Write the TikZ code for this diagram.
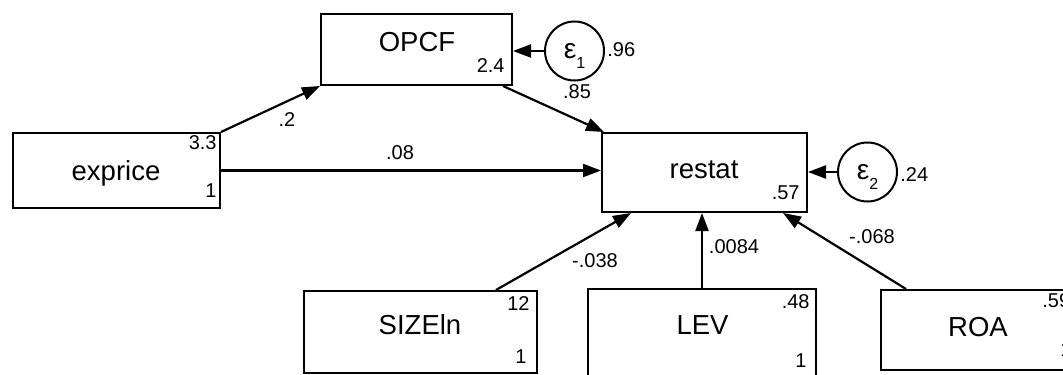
\documentclass[tikz,border=0pt]{standalone}
\usepackage{fontspec}
\setmainfont{Liberation Sans}
\usetikzlibrary{arrows.meta}

\begin{document}
\begin{tikzpicture}[x=0.5pt,y=-0.5pt,
		var/.style={draw,line width=1pt,inner sep=0pt},
		err/.style={draw,circle,line width=1pt,minimum size=29.5pt,inner sep=0pt,text depth=0pt,font=\fontsize{14}{16}\selectfont},
		eff/.style={line width=1.1pt,-{Triangle[length=9pt,width=6.5pt]}},
		vname/.style={font=\fontsize{13.75}{16}\selectfont,inner sep=0pt,anchor=base},
		num/.style={font=\fontsize{10}{12}\selectfont,inner sep=0pt}]
			\useasboundingbox (0,0) rectangle (1063,374);
			\fill[white] (0,0) rectangle (1063,374);
			\clip (0,0) rectangle (1063,374);
			% observed variables
			\node[var,minimum width=95.5pt,minimum height=35.5pt] (opcf) at (416.5,49.5) {};
			\node[var,minimum width=103.5pt,minimum height=37.5pt] (exprice) at (116.5,170.5) {};
			\node[var,minimum width=102.5pt,minimum height=39.5pt] (restat) at (704.5,172.5) {};
			\node[var,minimum width=116.5pt,minimum height=41pt] (sizeln) at (420.5,332) {};
			\node[var,minimum width=114pt,minimum height=45pt] (lev) at (702,334) {};
			\node[var,minimum width=114pt,minimum height=40pt] (roa) at (995,330) {};
			\node[vname] (opcf-t) at (417,52) {OPCF};
			\node[vname] (exprice-t) at (116,180) {exprice};
			\node[vname] (restat-t) at (704,178) {restat};
			\node[vname] (sizeln-t) at (420,334) {SIZEln};
			\node[vname] (lev-t) at (702.5,334) {LEV};
			\node[vname] (roa-t) at (978,336) {ROA};
			% errors
			\node[err] (e1) at (574.5,51) {ε\raisebox{-5pt}{\fontsize{8}{9}\selectfont 1}};
			\node[err] (e2) at (867.5,172) {ε\raisebox{-5pt}{\fontsize{8}{9}\selectfont 2}};
			% means / intercepts
			\node[num,anchor=base east] (m-exprice) at (217,149) {3.3};
			\node[num,anchor=base east] (v-exprice) at (217,197) {1};
			\node[num,anchor=base east] (i-opcf) at (505,73) {2.4};
			\node[num,anchor=base east] (i-restat) at (800,199) {.57};
			\node[num,anchor=base east] (m-sizeln) at (530,310) {12};
			\node[num,anchor=base east] (v-sizeln) at (527,363) {1};
			\node[num,anchor=base east] (m-lev) at (810,308) {.48};
			\node[num,anchor=base east] (v-lev) at (807,367) {1};
			\node[num,anchor=base west] (m-roa) at (1042,307) {.59};
			\node[num,anchor=base west] (v-roa) at (1060,356) {1};
			\node[num,anchor=base west] (v-e1) at (607,57) {.96};
			\node[num,anchor=base west] (v-e2) at (900,181) {.24};
			% paths
			\draw[eff] (exprice.north east) -- (opcf.south west);
			\draw[eff] ([shift={(-10,0)}]opcf.south east) -- ([shift={(3,0)}]restat.north west);
			\draw[eff] (exprice.east) -- (exprice.east -| restat.west);
			\draw[eff] ([shift={(-42,0)}]sizeln.north east) -- ([shift={(30,0)}]restat.south west);
			\draw[eff] (lev.north) -- (lev.north |- restat.south);
			\draw[eff] ([shift={(26,0)}]roa.north west) -- ([shift={(-25,0)}]restat.south east);
			\draw[eff] (e1.west) -- (e1.west -| opcf.east);
			\draw[eff] (e2.west) -- (e2.west -| restat.east);
			\node[num] (c-exprice-opcf) at (287,120) {.2};
			\node[num] (c-opcf-restat) at (577,92) {.85};
			\node[num] (c-exprice-restat) at (400,153) {.08};
			\node[num] (c-sizeln-restat) at (595,261) {-.038};
			\node[num] (c-lev-restat) at (734,247) {.0084};
			\node[num] (c-roa-restat) at (872,237) {-.068};
		\end{tikzpicture}
\end{document}
